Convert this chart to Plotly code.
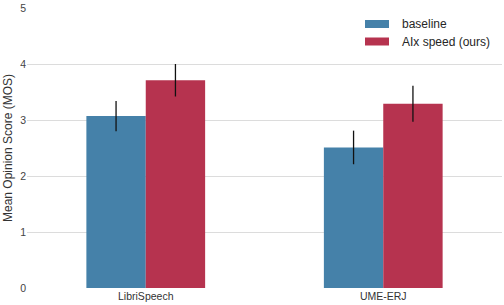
import plotly.graph_objects as go

categories = ["LibriSpeech", "UME-ERJ"]
baseline = [3.07, 2.51]
baseline_err = [0.27, 0.30]
aix = [3.71, 3.29]
aix_err = [0.29, 0.32]
series_names = ["baseline", "AIx speed (ours)"]
colors = ["#4581a9", "#b6334f"]
y_ticks = [0, 1, 2, 3, 4, 5]

fig = go.Figure()
for name, vals, errs, col in zip(series_names, [baseline, aix], [baseline_err, aix_err], colors):
    fig.add_trace(go.Bar(
        x=categories, y=vals, name=name, marker=dict(color=col, line=dict(width=0)),
        error_y=dict(type="data", array=errs, visible=True, color="#111111", thickness=1.3, width=0),
        showlegend=False, hoverinfo="skip",
    ))

# custom legend (swatch + label)
for i, (name, col) in enumerate(zip(series_names, colors)):
    yc = 1 - (24 + 17.5 * i - 8) / 280
    fig.add_shape(type="rect", xref="paper", yref="paper",
                  x0=(365 - 27) / 475, x1=(389 - 27) / 475,
                  y0=yc - 4 / 280, y1=yc + 4 / 280,
                  fillcolor=col, line=dict(width=0))
    fig.add_annotation(xref="paper", yref="paper", x=(400 - 27) / 475, y=yc,
                       text=name, showarrow=False, xanchor="left", yanchor="middle",
                       font=dict(size=12, color="#262626"))

fig.update_layout(
    width=504, height=305,
    margin=dict(l=27, r=2, t=8, b=17),
    paper_bgcolor="white", plot_bgcolor="white",
    barmode="group", bargap=0.5, bargroupgap=0,
    font=dict(family="Liberation Sans, Arial, sans-serif", color="#333333"),
    xaxis=dict(range=[-0.5, 1.5], showgrid=False, zeroline=False, showline=False,
               ticks="", automargin=False, tickfont=dict(size=10.5, color="#333333")),
    yaxis=dict(range=[0, 5], tickvals=y_ticks, showgrid=True, gridcolor="#dcdcdc", gridwidth=1,
               zeroline=False, showline=False, ticks="", automargin=False,
               tickfont=dict(size=10.5, color="#444444"),
               title=dict(text="Mean Opinion Score (MOS)", font=dict(size=12, color="#333333"), standoff=4)),
)

fig.write_html("out.html", config={"displayModeBar": False},
               post_script="document.body.style.margin='0';")
